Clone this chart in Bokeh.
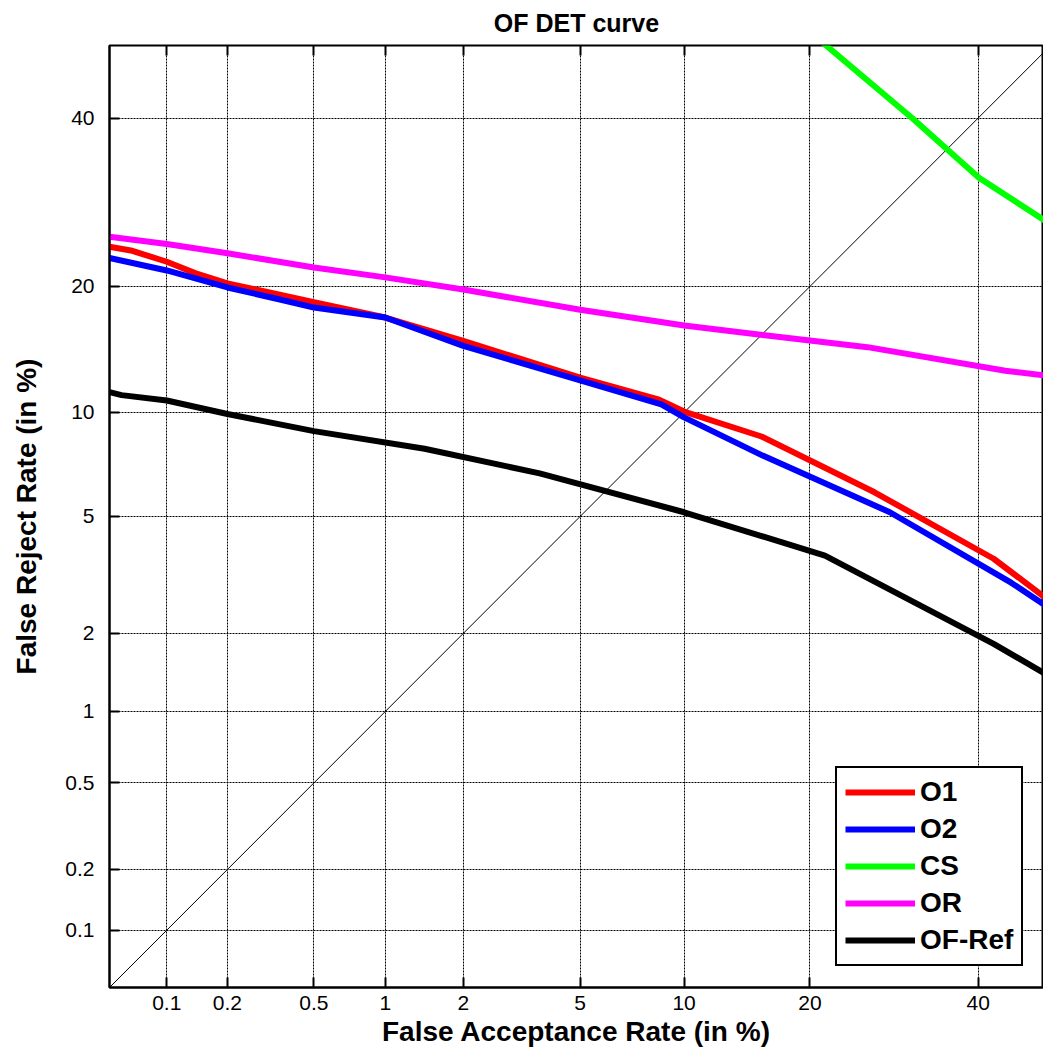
from statistics import NormalDist
from bokeh.plotting import figure
from bokeh.models import FixedTicker, LinearAxis, Legend, LegendItem, Range1d
from bokeh.embed import file_html
from bokeh.resources import INLINE

_nd = NormalDist()


def probit(pcts):
    return [_nd.inv_cdf(v / 100.0) for v in pcts]


# ---- data (percent) ----
tick_values = [0.1, 0.2, 0.5, 1, 2, 5, 10, 20, 40]
tick_labels = ["0.1", "0.2", "0.5", "1", "2", "5", "10", "20", "40"]

o1_far = [0.05, 0.065, 0.1, 0.14, 0.2, 0.5, 1, 2, 5, 8.55, 10, 15.6, 26.9, 42.1, 50]
o1_frr = [24.1, 23.7, 22.5, 21.3, 20.3, 18.5, 17.1, 15.1, 12.3, 10.8, 10.05, 8.6, 5.93, 3.65, 2.6]

o2_far = [0.05, 0.1, 0.2, 0.36, 0.5, 1, 2, 5, 8.67, 10, 15.7, 28.7, 44.5, 50]
o2_frr = [22.9, 21.6, 19.9, 18.7, 18.0, 17.1, 14.7, 12.1, 10.5, 9.7, 7.6, 5.15, 3.03, 2.45]

cs_far = [17.9, 21.8, 31.4, 40.1, 50]
cs_frr = [54.5, 49.8, 40.0, 32.2, 26.6]

or_far = [0.05, 0.1, 0.2, 0.5, 1, 2, 5, 10, 15.7, 26.1, 43.7, 50]
or_frr = [25.2, 24.4, 23.4, 21.9, 20.9, 19.7, 17.8, 16.4, 15.6, 14.6, 12.8, 12.4]

ref_far = [0.05, 0.058, 0.1, 0.2, 0.5, 1.43, 3.7, 10, 21.5, 42.1, 50]
ref_frr = [11.3, 11.1, 10.75, 9.9, 8.9, 7.95, 6.75, 5.15, 3.74, 1.83, 1.37]

diag = [0.05, 50]

range_min = 0.05
x_max = 49.0
y_max = 50.0

FONT = "Liberation Sans"

p = figure(
    width=1043, height=1054,
    output_backend="svg", toolbar_location=None,
    x_range=Range1d(probit([range_min])[0], probit([x_max])[0]),
    y_range=Range1d(probit([range_min])[0], probit([y_max])[0]),
    min_border_left=109, min_border_right=0, min_border_top=45, min_border_bottom=67,
    title="OF DET curve",
)
p.background_fill_color = "white"
p.border_fill_color = "white"
p.outline_line_color = "black"
p.outline_line_width = 2

p.title.text_font = FONT
p.title.text_font_size = "25px"
p.title.text_font_style = "bold"
p.title.text_color = "black"
p.title.align = "center"
p.title.vertical_align = "top"
p.title.offset = 4
p.title.standoff = 14

ticks = probit(tick_values)
ticker = FixedTicker(ticks=ticks)
overrides = {t: lab for t, lab in zip(ticks, tick_labels)}

for ax in (p.xaxis[0], p.yaxis[0]):
    ax.ticker = ticker
    ax.major_label_overrides = overrides
    ax.major_label_text_font = FONT
    ax.major_label_text_font_size = "21px"
    ax.major_label_text_color = "black"
    ax.axis_line_color = "black"
    ax.axis_line_width = 2
    ax.major_tick_in = 10
    ax.major_tick_out = 0
    ax.major_tick_line_color = "black"
    ax.major_tick_line_width = 2
    ax.minor_tick_line_color = None
    ax.axis_label_text_font = FONT
    ax.axis_label_text_font_size = "28px"
    ax.axis_label_text_font_style = "bold"
    ax.axis_label_text_color = "black"

p.xaxis[0].axis_label = "False Acceptance Rate (in %)"
p.yaxis[0].axis_label = "False Reject Rate (in %)"
p.xaxis[0].major_label_standoff = 8
p.xaxis[0].axis_label_standoff = 3
p.yaxis[0].major_label_standoff = 15
p.yaxis[0].axis_label_standoff = 20

top_axis = LinearAxis(
    ticker=ticker, major_label_overrides={t: "" for t in ticks},
    major_label_text_font_size="1px", major_label_standoff=0,
    axis_line_color=None, major_tick_in=10, major_tick_out=0,
    major_tick_line_color="black", major_tick_line_width=2, minor_tick_line_color=None,
)
p.add_layout(top_axis, "above")

for g in (p.xgrid[0], p.ygrid[0]):
    g.ticker = ticker
    g.grid_line_color = "black"
    g.grid_line_width = 1
    g.grid_line_dash = "2 1"
    g.grid_line_alpha = 1.0

p.line(probit(diag), probit(diag), line_color="black", line_width=1)

series = [
    ("O1", o1_far, o1_frr, "#ff0000"),
    ("O2", o2_far, o2_frr, "#0000ff"),
    ("CS", cs_far, cs_frr, "#00ff00"),
    ("OR", or_far, or_frr, "#ff00ff"),
    ("OF-Ref", ref_far, ref_frr, "#000000"),
]
items = []
for name, fx, fy, col in series:
    r = p.line(probit(fx), probit(fy), line_color=col, line_width=6)
    items.append(LegendItem(label=name, renderers=[r]))

legend = Legend(
    items=items, location=(726, 21),
    label_text_font=FONT, label_text_font_size="28px", label_text_font_style="bold",
    label_text_color="black",
    glyph_width=70, glyph_height=28, label_height=28, label_standoff=5,
    spacing=5, padding=8, margin=0,
    border_line_color="black", border_line_width=2, border_line_alpha=1.0,
    background_fill_color="white", background_fill_alpha=1.0,
)
p.add_layout(legend)

open("out.html", "w").write(file_html(p, INLINE))
